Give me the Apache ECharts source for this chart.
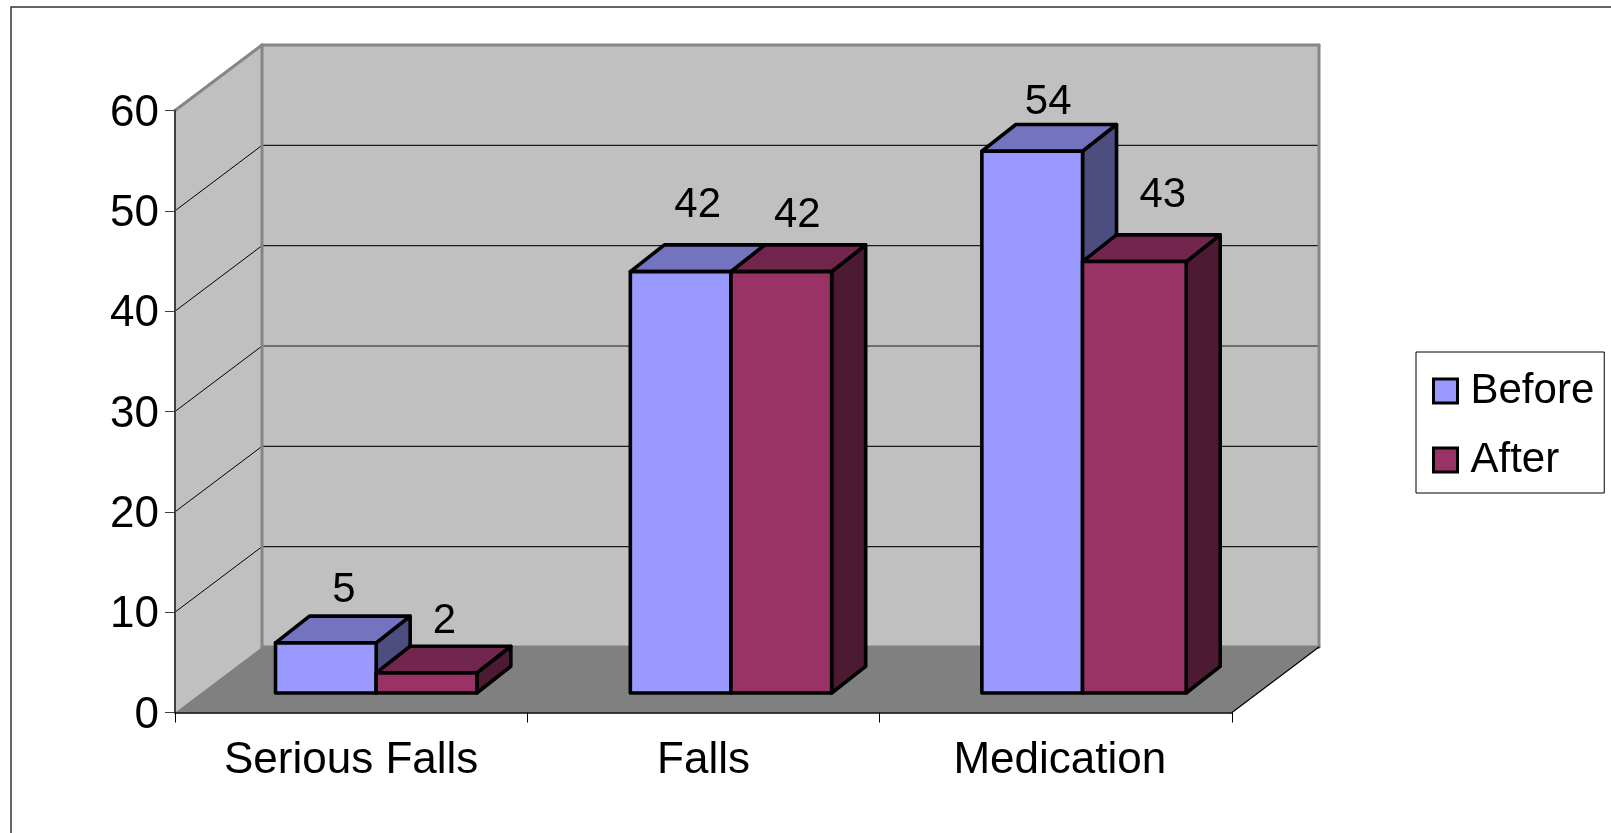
<!DOCTYPE html>
<html>
<head>
<meta charset="utf-8">
<style>html,body{margin:0;padding:0;background:#fff}#chart{width:1611px;height:833px}</style>
<script src="https://cdn.jsdelivr.net/npm/echarts@6/dist/echarts.min.js"></script>
</head>
<body>
<div id="chart"></div>
<script>
// Incident counts before and after the programme
const categories = ['Serious Falls', 'Falls', 'Medication'];
const beforeValues = [5, 42, 54];
const afterValues = [2, 42, 43];
const valueTicks = [0, 10, 20, 30, 40, 50, 60];

// Hand-placed label offsets from the front face's top centre, one per category
const beforeLabelShift = [[18, -52], [17, -66], [16, -49]];
const afterLabelShift = [[18, -52], [16, -56], [30, -66]];
// Per-category sideways adjustment of each bar pair, and extra width of the After bar
const pairNudge = [0, 2.5, 1.7];
const afterExtraWidth = [0, 0, 3];

// Oblique projection of the box the bars stand in
const ROOM_DX = 87, ROOM_DY = 65.5;
const BAR_INSET_DX = 25, BAR_INSET_DY = 19.5;
const BAR_DEPTH_DX = 34, BAR_DEPTH_DY = 26.7;
const FONT = '"Liberation Sans", Arial, sans-serif';
const VALUE_FONT_SIZE = 42;
const AXIS_FONT_SIZE = 44;

const poly = (points, fill, extra) => ({
  type: 'polygon',
  shape: { points },
  style: Object.assign({ fill, stroke: null }, extra || {})
});
const seg = (x1, y1, x2, y2, stroke, lineWidth) => ({
  type: 'line',
  shape: { x1, y1, x2, y2 },
  style: { stroke, lineWidth, lineCap: 'round' }
});

// Side wall, back wall, floor and gridlines
function renderRoom(params, api) {
  const c = params.coordSys;
  const l = c.x, r = c.x + c.width, t = c.y, b = c.y + c.height;
  const dx = ROOM_DX, dy = ROOM_DY;
  const wallEdge = '#868686';
  const kids = [
    poly([[l, b], [l + dx, b - dy], [l + dx, t - dy], [l, t]], '#c0c0c0'),
    poly([[l + dx, t - dy], [r + dx, t - dy], [r + dx, b - dy], [l + dx, b - dy]], '#c0c0c0'),
    poly([[l, b], [l + dx, b - dy], [r + dx, b - dy], [r, b]], '#808080')
  ];
  valueTicks.slice(1, -1).forEach(v => {
    const y = api.coord([0, v])[1];
    kids.push(seg(l, y, l + dx, y - dy, '#000', 1));
    kids.push(seg(l + dx, y - dy, r + dx, y - dy, '#1a1a1a', 1.2));
  });
  kids.push(seg(l + dx, b - dy, r + dx, b - dy, '#808080', 3));
  kids.push(seg(l, t, l + dx, t - dy, wallEdge, 3));
  kids.push(seg(l + dx, t - dy, r + dx, t - dy, wallEdge, 3));
  kids.push(seg(l + dx, t - dy, l + dx, b - dy, wallEdge, 3));
  kids.push(seg(r + dx, t - dy, r + dx, b - dy, wallEdge, 3));
  kids.push(seg(r, b, r + dx, b - dy, '#000', 1.2));
  return { type: 'group', children: kids };
}

// One extruded bar: front, top and right faces plus its value text
function barRenderer(seriesIndex, front, top, side, shifts) {
  return function (params, api) {
    const i = api.value(0), v = api.value(1);
    const p = api.coord([i, v]), base = api.coord([i, 0]);
    const w = api.size([1, 0])[0] / 3.5;
    const cx = p[0] + BAR_INSET_DX + pairNudge[i];
    const x0 = seriesIndex === 0 ? cx - w : cx;
    const x1 = x0 + w + (seriesIndex === 1 ? afterExtraWidth[i] : 0);
    const yb = base[1] - BAR_INSET_DY, yt = p[1] - BAR_INSET_DY;
    const dx = BAR_DEPTH_DX, dy = BAR_DEPTH_DY;
    const edge = { stroke: '#000', lineWidth: 3.6, lineJoin: 'round' };
    return {
      type: 'group',
      children: [
        poly([[x1, yb], [x1 + dx, yb - dy], [x1 + dx, yt - dy], [x1, yt]], side, edge),
        poly([[x0, yt], [x0 + dx, yt - dy], [x1 + dx, yt - dy], [x1, yt]], top, edge),
        poly([[x0, yb], [x1, yb], [x1, yt], [x0, yt]], front, edge),
        {
          type: 'text',
          x: x0 + w / 2 + shifts[i][0],
          y: yt + shifts[i][1],
          style: {
            text: String(v), fill: '#000', font: VALUE_FONT_SIZE + 'px ' + FONT,
            textAlign: 'center', textVerticalAlign: 'middle'
          }
        }
      ]
    };
  };
}

const pairs = values => values.map((v, i) => [i, v]);

const chart = echarts.init(document.getElementById('chart'), null, { renderer: 'canvas' });
chart.setOption({
  animation: false,
  backgroundColor: '#fff',
  textStyle: { fontFamily: FONT },
  grid: { left: 175, top: 110.5, width: 1057, height: 602, containLabel: false },
  legend: {
    orient: 'vertical',
    left: 1416,
    top: 352,
    padding: [18, 10, 12, 16],
    itemGap: 27,
    itemWidth: 24,
    itemHeight: 24,
    backgroundColor: '#fff',
    borderColor: '#000',
    borderWidth: 1,
    borderRadius: 0,
    selectedMode: false,
    textStyle: { fontSize: VALUE_FONT_SIZE, color: '#000', fontFamily: FONT, padding: [0, 0, 0, 8] },
    data: [
      { name: 'Before', icon: 'rect', itemStyle: { color: '#9999ff', borderColor: '#000', borderWidth: 3 } },
      { name: 'After', icon: 'rect', itemStyle: { color: '#993366', borderColor: '#000', borderWidth: 3 } }
    ]
  },
  xAxis: {
    type: 'category',
    data: categories,
    z: 5,
    axisLine: { show: true, lineStyle: { color: '#000', width: 1.5 } },
    axisTick: { show: true, length: 10, alignWithLabel: false, lineStyle: { color: '#000', width: 1 } },
    axisLabel: {
      color: '#000', fontSize: AXIS_FONT_SIZE, fontFamily: FONT, margin: 26.5, interval: 0,
      formatter: (v, i) => (i === 2 ? '{shifted|' + v + '}' : v),
      rich: { shifted: { color: '#000', fontSize: AXIS_FONT_SIZE, fontFamily: FONT, padding: [0, 0, 0, 8] } }
    },
    splitLine: { show: false }
  },
  yAxis: {
    type: 'value',
    min: 0,
    max: 60,
    interval: 10,
    z: 5,
    axisLine: { show: true, lineStyle: { color: '#404040', width: 2 } },
    axisTick: { show: true, length: 10, lineStyle: { color: '#404040', width: 1 } },
    axisLabel: {
      color: '#000', fontSize: AXIS_FONT_SIZE, fontFamily: FONT, margin: 16,
      verticalAlign: 'top', lineHeight: 6
    },
    splitLine: { show: false }
  },
  series: [
    {
      name: 'Room', type: 'custom', silent: true, z: 1,
      data: [[0, 0]], encode: { x: 0, y: 1 }, renderItem: renderRoom
    },
    {
      name: 'Before', type: 'custom', z: 2,
      itemStyle: { color: '#9999ff' },
      data: pairs(beforeValues), encode: { x: 0, y: 1 },
      renderItem: barRenderer(0, '#9999ff', '#7373bf', '#4d4d80', beforeLabelShift)
    },
    {
      name: 'After', type: 'custom', z: 3,
      itemStyle: { color: '#993366' },
      data: pairs(afterValues), encode: { x: 0, y: 1 },
      renderItem: barRenderer(1, '#993366', '#73264d', '#4d1a33', afterLabelShift)
    }
  ],
  graphic: [{
    type: 'polyline',
    z: 0,
    shape: { points: [[11, 833], [11, 7], [1611, 7]] },
    style: { stroke: '#333', lineWidth: 1.5, fill: null }
  }]
});
</script>
</body>
</html>
